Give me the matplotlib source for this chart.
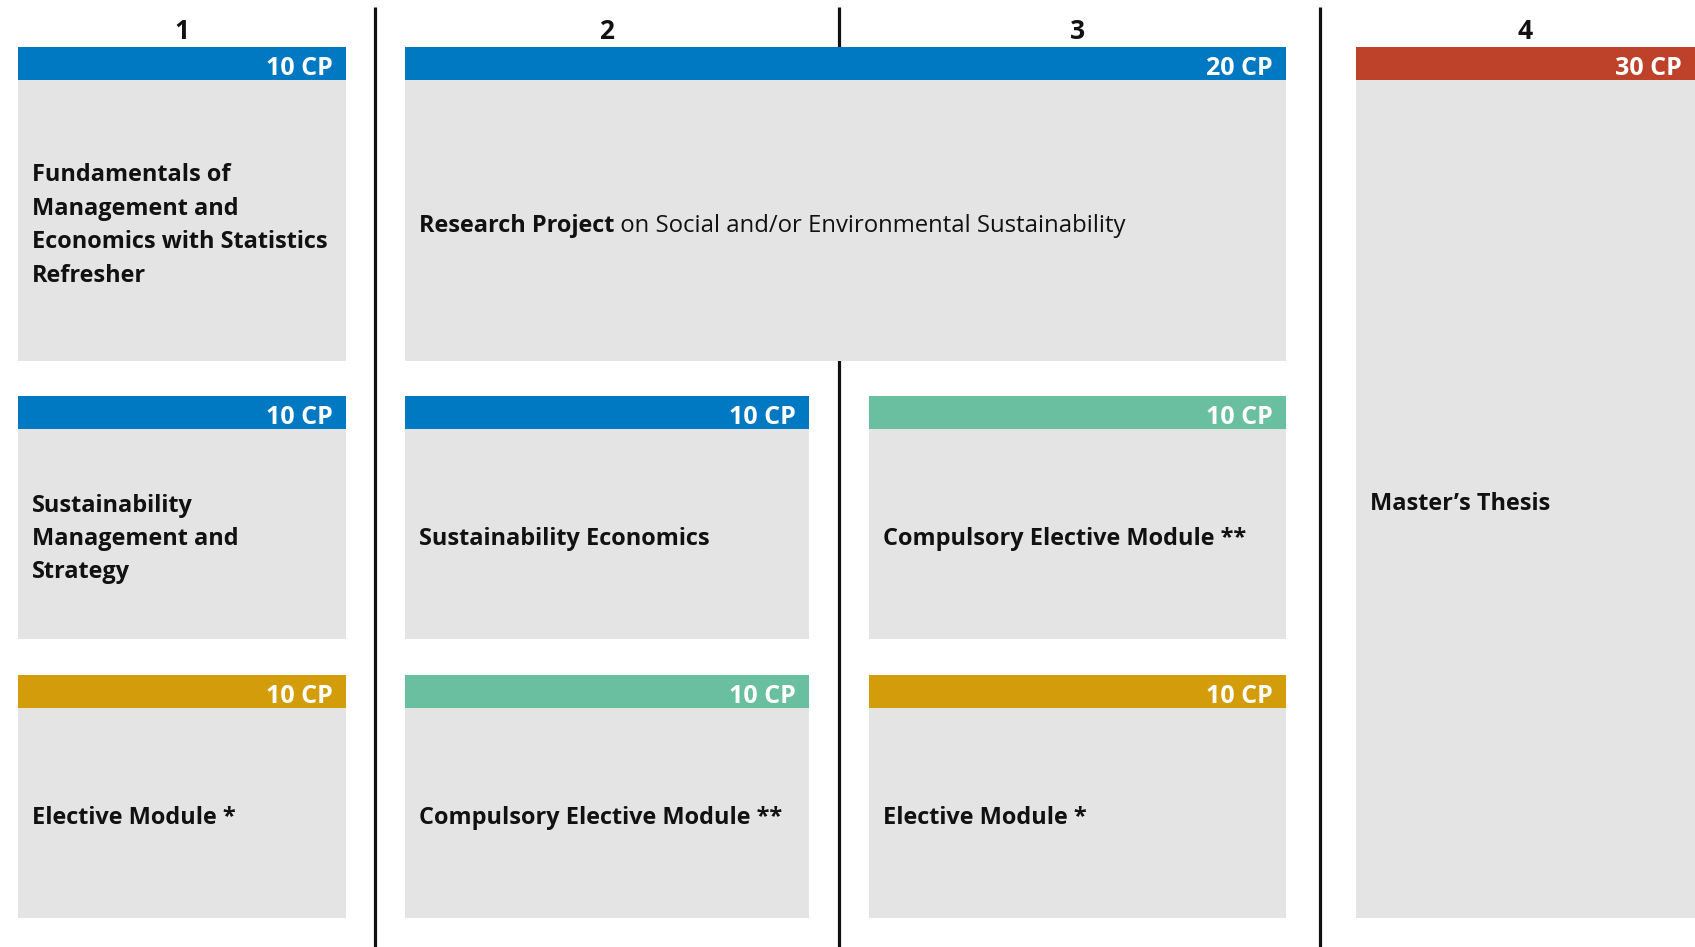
"""
Study plan grid: modules per semester with credit points.
"""

import matplotlib.pyplot as plt
from matplotlib.patches import Rectangle

# --- data ---------------------------------------------------------------
SEMESTERS = ["1", "2", "3", "4"]

# (title in bold, trailing regular text)
MODULE_TITLES = [
    ("Fundamentals of\nManagement and\nEconomics with Statistics\nRefresher", ""),
    ("Sustainability\nManagement and\nStrategy", ""),
    ("Elective Module *", ""),
    ("Research Project", " on Social and/or Environmental Sustainability"),
    ("Sustainability Economics", ""),
    ("Compulsory Elective Module **", ""),
    ("Compulsory Elective Module **", ""),
    ("Elective Module *", ""),
    ("Master\u2019s Thesis", ""),
]
MODULE_CP = [10, 10, 10, 20, 10, 10, 10, 10, 30]
MODULE_KIND = ["core", "core", "elective", "core", "core",
               "compulsory", "compulsory", "elective", "thesis"]
# first semester index, last semester index, first row, last row
MODULE_SEM_START = [0, 0, 0, 1, 1, 1, 2, 2, 3]
MODULE_SEM_END = [0, 0, 0, 2, 1, 1, 2, 2, 3]
MODULE_ROW_START = [0, 1, 2, 0, 1, 2, 1, 2, 0]
MODULE_ROW_END = [0, 1, 2, 0, 1, 2, 1, 2, 2]

# --- style / layout -----------------------------------------------------
KIND_COLORS = {
    "core": "#0079C2",
    "elective": "#D39C0B",
    "compulsory": "#6ABFA1",
    "thesis": "#BE4129",
}
BOX_GRAY = "#E4E4E4"
FONT = ["Open Sans", "DejaVu Sans"]

W, H = 1695, 947
COL_X0 = [18, 405, 869, 1356]
COL_X1 = [346, 809, 1286, 1700]
ROW_TOP = [47, 396, 675]
ROW_BOTTOM = [361, 639, 918]
HEADER_H = 33
SEPARATORS_X = [375, 839, 1320]


def main() -> None:
    fig = plt.figure(figsize=(W / 100, H / 100), dpi=100)
    ax = fig.add_axes([0, 0, 1, 1])
    ax.set_xlim(0, W)
    ax.set_ylim(H, 0)
    ax.axis("off")

    for x in SEPARATORS_X:
        ax.plot([x, x], [7, H], color="#111111", linewidth=2.3, zorder=1,
                solid_capstyle="butt")

    for i, label in enumerate(SEMESTERS):
        cx = (COL_X0[i] + min(COL_X1[i], W)) / 2
        ax.text(cx, 31, label, ha="center", va="center", fontsize=19,
                fontweight="bold", family=FONT, color="#111111")

    for (bold, rest), cp, kind, s0, s1, r0, r1 in zip(
        MODULE_TITLES, MODULE_CP, MODULE_KIND,
        MODULE_SEM_START, MODULE_SEM_END, MODULE_ROW_START, MODULE_ROW_END,
    ):
        x0, x1 = COL_X0[s0], COL_X1[s1]
        y0, y1 = ROW_TOP[r0], ROW_BOTTOM[r1]
        ax.add_patch(Rectangle((x0, y0), x1 - x0, y1 - y0,
                               facecolor=BOX_GRAY, edgecolor="none", zorder=2))
        ax.add_patch(Rectangle((x0, y0), x1 - x0, HEADER_H,
                               facecolor=KIND_COLORS[kind], edgecolor="none", zorder=3))
        ax.text(min(x1, W) - 13, y0 + HEADER_H / 2 + 5, f"{cp} CP",
                ha="right", va="center", fontsize=18, fontweight="bold",
                family=FONT, color="white", zorder=4)

        ty = (y0 + HEADER_H + y1) / 2 + 5
        t = ax.text(x0 + 14, ty, bold, ha="left", va="center", fontsize=16.9,
                    fontweight="bold", family=FONT, color="#111111",
                    linespacing=1.52, zorder=4)
        if rest:
            ax.annotate(rest, xy=(1, 0.5), xycoords=t, ha="left", va="center",
                        fontsize=17.2, family=FONT, color="#111111", zorder=4)

    fig.savefig("out.png", dpi=100)
    plt.close(fig)


if __name__ == "__main__":
    main()
